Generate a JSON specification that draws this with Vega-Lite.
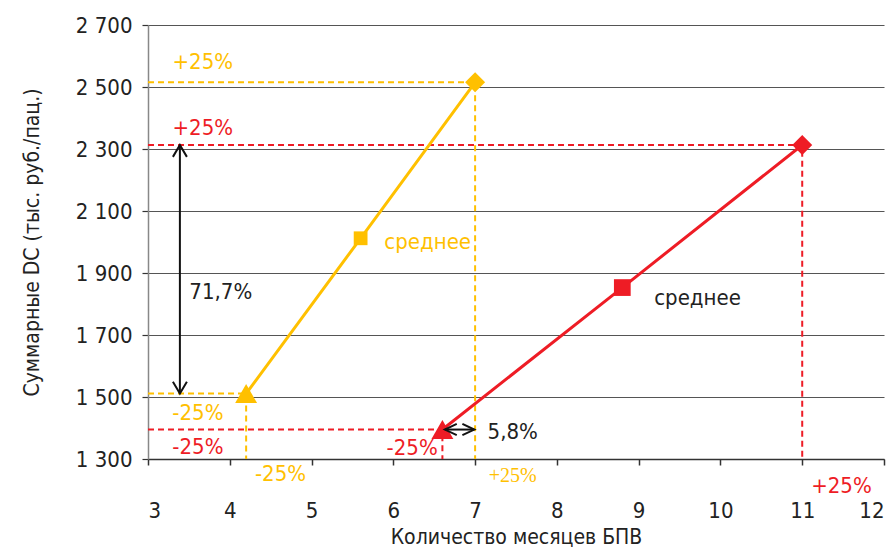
{
  "$schema": "https://vega.github.io/schema/vega-lite/v6.json",
  "width": 736,
  "height": 434,
  "autosize": {"type": "none"},
  "padding": {"left": 148, "top": 25, "right": 10, "bottom": 90},
  "background": "white",
  "config": {
    "view": {"stroke": null},
    "font": "DejaVu Sans Condensed, Open Sans, sans-serif",
    "text": {"font": "DejaVu Sans Condensed, Open Sans, sans-serif"}
  },
  "layer": [
    {
      "data": {"values": [
        {"g": "yt", "s": "y", "o": 1, "x": 3, "y": 2515},
        {"g": "yt", "s": "y", "o": 2, "x": 7, "y": 2515},
        {"g": "yt", "s": "y", "o": 3, "x": 7, "y": 1300},
        {"g": "yb", "s": "y", "o": 1, "x": 3, "y": 1511},
        {"g": "yb", "s": "y", "o": 2, "x": 4.2, "y": 1511},
        {"g": "yb", "s": "y", "o": 3, "x": 4.2, "y": 1300},
        {"g": "rt", "s": "r", "o": 1, "x": 3, "y": 2313},
        {"g": "rt", "s": "r", "o": 2, "x": 11, "y": 2313},
        {"g": "rt", "s": "r", "o": 3, "x": 11, "y": 1300},
        {"g": "rb", "s": "r", "o": 1, "x": 3, "y": 1395},
        {"g": "rb", "s": "r", "o": 2, "x": 6.6, "y": 1395},
        {"g": "rb", "s": "r", "o": 3, "x": 6.6, "y": 1300}
      ]},
      "mark": {"type": "line", "strokeWidth": 2, "strokeDash": [6, 4]},
      "encoding": {
        "x": {"field": "x", "type": "quantitative",
          "scale": {"domain": [3, 12], "nice": false, "zero": false},
          "axis": {"values": [3,4,5,6,7,8,9,10,11,12], "format": "d", "grid": false, "title": "Количество месяцев БПВ",
            "domainColor": "#333", "domainWidth": 1.5, "tickColor": "#333", "tickSize": 6, "tickWidth": 1.5,
            "labelFontSize": 22, "labelColor": "#222", "labelPadding": 35,
            "titleFontSize": 21, "titleFontWeight": "normal", "titleColor": "#222", "titlePadding": 5}},
        "y": {"field": "y", "type": "quantitative",
          "scale": {"domain": [1300, 2700], "nice": false, "zero": false},
          "axis": {"values": [1300,1500,1700,1900,2100,2300,2500,2700], "grid": true, "gridColor": "#555", "gridWidth": 1.2,
            "labelExpr": "replace(format(datum.value, ','), ',', ' ')",
            "title": "Суммарные DC (тыс. руб./пац.)",
            "domainColor": "#888", "domainWidth": 1.5, "tickColor": "#333", "tickSize": 6, "tickWidth": 1.2,
            "labelFontSize": 22, "labelColor": "#222", "labelPadding": 10,
            "titleFontSize": 21, "titleFontWeight": "normal", "titleColor": "#222", "titlePadding": 33}},
        "color": {"field": "s", "type": "nominal", "legend": null,
          "scale": {"domain": ["y", "r", "k"], "range": ["#FFC000", "#EE1C25", "#222222"]}},
        "detail": {"field": "g"},
        "order": {"field": "o"}
      }
    },
    {
      "data": {"values": [
        {"s": "y", "pt": "min", "x": 4.2, "y": 1511},
        {"s": "y", "pt": "mean", "x": 5.6, "y": 2012},
        {"s": "y", "pt": "max", "x": 7, "y": 2515},
        {"s": "r", "pt": "min", "x": 6.6, "y": 1395},
        {"s": "r", "pt": "mean", "x": 8.8, "y": 1853},
        {"s": "r", "pt": "max", "x": 11, "y": 2313}
      ]},
      "layer": [
        {
          "mark": {"type": "line", "strokeWidth": 3},
          "encoding": {
            "x": {"field": "x", "type": "quantitative"},
            "y": {"field": "y", "type": "quantitative"},
            "color": {"field": "s", "type": "nominal", "legend": null,
              "scale": {"domain": ["y", "r", "k"], "range": ["#FFC000", "#EE1C25", "#222222"]}},
            "order": {"field": "x"}
          }
        },
        {
          "mark": {"type": "point", "filled": true, "opacity": 1},
          "encoding": {
            "x": {"field": "x", "type": "quantitative"},
            "y": {"field": "y", "type": "quantitative"},
            "color": {"field": "s", "type": "nominal", "legend": null,
              "scale": {"domain": ["y", "r", "k"], "range": ["#FFC000", "#EE1C25", "#222222"]}},
            "shape": {"field": "pt", "type": "nominal", "legend": null,
              "scale": {"domain": ["min", "mean", "max", "up", "down", "left", "right"],
                "range": ["triangle-up", "square", "diamond", "M-1,1.7L0,0L1,1.7", "M-1,-1.7L0,0L1,-1.7", "M1.7,-0.8L0,0L1.7,0.8", "M-1.7,-0.8L0,0L-1.7,0.8"]}},
            "size": {"condition": [
              {"test": "datum.s == 'r' && datum.pt == 'mean'", "value": 280},
              {"test": "datum.pt == 'min'", "value": 480},
              {"test": "datum.pt == 'max'", "value": 400}
            ], "value": 190}
          }
        }
      ]
    },
    {
      "data": {"values": [
        {"x": 3.39, "y": 2313, "y2": 1511},
        {"x": 6.63, "x2": 6.99, "y": 1395}
      ]},
      "mark": {"type": "rule", "strokeWidth": 2, "color": "#111"},
      "encoding": {
        "x": {"field": "x", "type": "quantitative"},
        "x2": {"field": "x2"},
        "y": {"field": "y", "type": "quantitative"},
        "y2": {"field": "y2"}
      }
    },
    {
      "data": {"values": [
        {"pt": "up", "x": 3.39, "y": 2313},
        {"pt": "down", "x": 3.39, "y": 1511},
        {"pt": "left", "x": 6.63, "y": 1395},
        {"pt": "right", "x": 6.99, "y": 1395}
      ]},
      "mark": {"type": "point", "filled": false, "strokeWidth": 2, "color": "#111", "opacity": 1, "size": 196},
      "encoding": {
        "x": {"field": "x", "type": "quantitative"},
        "y": {"field": "y", "type": "quantitative"},
        "shape": {"field": "pt", "type": "nominal", "legend": null,
          "scale": {"domain": ["min", "mean", "max", "up", "down", "left", "right"],
            "range": ["triangle-up", "square", "diamond", "M-1,1.7L0,0L1,1.7", "M-1,-1.7L0,0L1,-1.7", "M1.7,-0.8L0,0L1.7,0.8", "M-1.7,-0.8L0,0L-1.7,0.8"]}}
      }
    },
    {
      "data": {"values": [
        {"t": "+25%", "c": "y", "x": 3.67, "y": 2581},
        {"t": "+25%", "c": "r", "x": 3.67, "y": 2368},
        {"t": "-25%", "c": "y", "x": 3.61, "y": 1448},
        {"t": "-25%", "c": "r", "x": 3.61, "y": 1339},
        {"t": "-25%", "c": "y", "x": 4.62, "y": 1252},
        {"t": "-25%", "c": "r", "x": 6.23, "y": 1335},
        {"t": "+25%", "c": "r", "x": 11.48, "y": 1213},
        {"t": "среднее", "c": "y", "x": 6.42, "y": 2000},
        {"t": "среднее", "c": "k", "x": 9.72, "y": 1819},
        {"t": "71,7%", "c": "k", "x": 3.89, "y": 1839},
        {"t": "5,8%", "c": "k", "x": 7.46, "y": 1387}
      ]},
      "mark": {"type": "text", "fontSize": 22, "align": "center", "baseline": "middle"},
      "encoding": {
        "x": {"field": "x", "type": "quantitative"},
        "y": {"field": "y", "type": "quantitative"},
        "text": {"field": "t"},
        "color": {"field": "c", "type": "nominal", "legend": null,
          "scale": {"domain": ["y", "r", "k"], "range": ["#FFC000", "#EE1C25", "#222222"]}}
      }
    },
    {
      "data": {"values": [
        {"t": "+25%", "c": "y", "x": 7.46, "y": 1245}
      ]},
      "mark": {"type": "text", "fontSize": 20, "font": "Liberation Serif", "align": "center", "baseline": "middle"},
      "encoding": {
        "x": {"field": "x", "type": "quantitative"},
        "y": {"field": "y", "type": "quantitative"},
        "text": {"field": "t"},
        "color": {"field": "c", "type": "nominal", "legend": null,
          "scale": {"domain": ["y", "r", "k"], "range": ["#FFC000", "#EE1C25", "#222222"]}}
      }
    }
  ]
}
